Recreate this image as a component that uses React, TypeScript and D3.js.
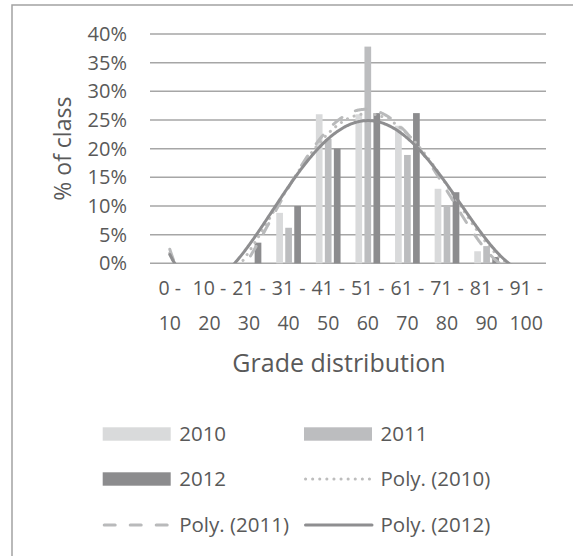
import React from 'react';
import * as d3 from 'd3';

const categories = ['0 - 10', '10 - 20', '21 - 30', '31 - 40', '41 - 50', '51 - 60', '61 - 70', '71 - 80', '81 - 90', '91 - 100'];
const seriesNames = ['2010', '2011', '2012'];
const values2010 = [0, 0, 0, 8.8, 26.0, 26.0, 24.0, 13.0, 2.1, 0];
const values2011 = [0, 0, 0, 6.2, 21.7, 37.8, 18.9, 10.0, 3.0, 0];
const values2012 = [0, 0, 3.6, 10.0, 20.0, 26.2, 26.2, 12.4, 1.1, 0];
const yTicks = [0, 5, 10, 15, 20, 25, 30, 35, 40];
const trendOrder = 4;

const barColors = ['#d9dadb', '#bcbdbf', '#8c8c8e'];
const trendColors = ['#bdbdbd', '#b9babb', '#8e8e90'];
const textColor = '#595959';
const font = "'Open Sans', sans-serif";

function polyfit(ys: number[], order: number) {
  const n = ys.length;
  const xs = ys.map((_, i) => (i + 1 - 5.5) / 4.5);
  const m = order + 1;
  const A: number[][] = Array.from({ length: m }, () => new Array(m + 1).fill(0));
  for (let k = 0; k < n; k++) {
    for (let r = 0; r < m; r++) {
      for (let c = 0; c < m; c++) A[r][c] += Math.pow(xs[k], r + c);
      A[r][m] += Math.pow(xs[k], r) * ys[k];
    }
  }
  for (let i = 0; i < m; i++) {
    let p = i;
    for (let r = i + 1; r < m; r++) if (Math.abs(A[r][i]) > Math.abs(A[p][i])) p = r;
    [A[i], A[p]] = [A[p], A[i]];
    for (let r = 0; r < m; r++) {
      if (r === i) continue;
      const f = A[r][i] / A[i][i];
      for (let c = i; c <= m; c++) A[r][c] -= f * A[i][c];
    }
  }
  const coef = A.map((row, i) => row[m] / row[i]);
  return (x: number) => {
    const t = (x - 5.5) / 4.5;
    let s = 0;
    for (let i = coef.length - 1; i >= 0; i--) s = s * t + coef[i];
    return s;
  };
}

export default function App() {
  const left = 150, right = 546, top = 34, bottom = 263.3;
  const x = d3.scaleBand<string>().domain(categories).range([left, right]).padding(0);
  const bw = x.bandwidth();
  const xs = d3.scaleBand<string>().domain(seriesNames).range([bw / 2 - 12.35, bw / 2 + 12.35]).paddingInner(0.256).paddingOuter(0);
  const y = d3.scaleLinear().domain([0, 40]).range([bottom, top]);
  const allSeries = [values2010, values2011, values2012];
  const xIdx = d3.scaleLinear().domain([1, categories.length]).range([left + bw / 2, right - bw / 2]);

  const samples = d3.range(1, 10.001, 0.02);
  const trendPaths = allSeries.map((vals) => {
    const f = polyfit(vals, trendOrder);
    return d3.line<number>().x((t) => xIdx(t)).y((t) => y(f(t))).curve(d3.curveLinear)(samples) || '';
  });

  const dash = ['0.1 7', '11 15', ''];

  const legendItems = [
    { label: '2010', kind: 'bar', i: 0, x: 102.7, yc: 434 },
    { label: '2011', kind: 'bar', i: 1, x: 304, yc: 434 },
    { label: '2012', kind: 'bar', i: 2, x: 102.7, yc: 479 },
    { label: 'Poly. (2010)', kind: 'line', i: 0, x: 304, yc: 479 },
    { label: 'Poly. (2011)', kind: 'line', i: 1, x: 102.7, yc: 525 },
    { label: 'Poly. (2012)', kind: 'line', i: 2, x: 304, yc: 525 },
  ];

  return (
    <svg width={573} height={556} style={{ position: 'absolute', left: 0, top: 0, background: '#fff' }}>
      <defs>
        <clipPath id="plotclip">
          <rect x={left} y={top - 2} width={right - left} height={bottom - top + 2} />
        </clipPath>
      </defs>
      <rect x={12} y={5} width={600} height={600} fill="#fff" stroke="#a3a3a3" strokeWidth={1.5} />
      {yTicks.map((t) => (
        <g key={t}>
          <line x1={left} x2={right} y1={y(t)} y2={y(t)} stroke="#a6a6a6" strokeWidth={1.5} />
          <text x={127} y={y(t)} dy="0.35em" textAnchor="end" fontFamily={font} fontSize={20} fill={textColor}>{t}%</text>
        </g>
      ))}
      {allSeries.map((vals, si) => (
        <g key={si}>
          {vals.map((v, ci) => v > 0 ? (
            <rect key={ci} x={(x(categories[ci]) || 0) + (xs(seriesNames[si]) || 0)} y={y(v)} width={xs.bandwidth()} height={y(0) - y(v)} fill={barColors[si]} />
          ) : null)}
        </g>
      ))}
      <g clipPath="url(#plotclip)">
        {trendPaths.map((p, i) => (
          <path key={i} d={p} fill="none" stroke={trendColors[i]} strokeWidth={3} strokeLinecap="round" strokeDasharray={dash[i] || undefined} />
        ))}
      </g>
      {categories.map((c) => {
        const [a, b] = c.split(' - ');
        const cx = (x(c) || 0) + bw / 2;
        return (
          <text key={c} textAnchor="middle" fontFamily={font} fontSize={19.5} fill={textColor}>
            <tspan x={cx} y={288} dy="0.35em">{a + ' -'}</tspan>
            <tspan x={cx} y={323} dy="0.35em">{b}</tspan>
          </text>
        );
      })}
      <text x={339} y={363} dy="0.35em" textAnchor="middle" fontFamily={font} fontSize={25} fill={textColor}>Grade distribution</text>
      <text transform={`translate(63,${(top + bottom) / 2}) rotate(-90)`} dy="0.35em" textAnchor="middle" fontFamily={font} fontSize={23} fill={textColor}>% of class</text>
      {legendItems.map((it) => (
        <g key={it.label}>
          {it.kind === 'bar' ? (
            <rect x={it.x} y={it.yc - 6.7} width={68} height={13.4} fill={barColors[it.i]} />
          ) : (
            <line x1={it.x + 1.5} x2={it.x + 68} y1={it.yc} y2={it.yc} stroke={trendColors[it.i]} strokeWidth={3} strokeLinecap="round" strokeDasharray={dash[it.i] || undefined} />
          )}
          <text x={it.x + 76.5} y={it.yc} dy="0.35em" fontFamily={font} fontSize={20.5} fill={textColor}>{it.label}</text>
        </g>
      ))}
    </svg>
  );
}
